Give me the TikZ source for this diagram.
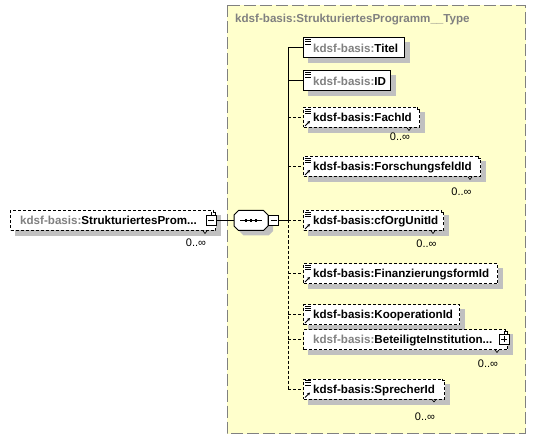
\documentclass[tikz,border=0pt]{standalone}
\usepackage{fontspec}
\setmainfont{Liberation Sans}
\usetikzlibrary{arrows.meta}
\definecolor{xyellow}{RGB}{255,255,204}
\definecolor{xgray}{RGB}{128,128,128}
\definecolor{shadowgray}{RGB}{192,192,192}
\pgfdeclarelayer{back}
\pgfdeclarelayer{shadelayer}
\pgfsetlayers{back,shadelayer,main}
\newcommand{\bfont}{\fontsize{11.6bp}{13bp}\selectfont\bfseries}
\newcommand{\mfont}{\fontsize{11bp}{13bp}\selectfont}
\newcommand{\xname}[2]{\makebox[#1bp][l]{\hspace{9.7bp}\textcolor{xgray}{kdsf-basis:}#2}}
\newcommand{\rname}[2]{\makebox[#1bp][l]{\hspace{9.7bp}kdsf-basis:#2}}
\newcommand{\eqicon}[1]{\draw[line width=0.8bp] ([xshift=2bp,yshift=-2bp]#1.north west) -- ++(5.5bp,0) ([xshift=2bp,yshift=-4.3bp]#1.north west) -- ++(5.5bp,0) ([xshift=2bp,yshift=-6.6bp]#1.north west) -- ++(5.5bp,0);}
\newcommand{\reficon}[1]{\draw[line width=0.8bp,-{Stealth[length=3bp,width=3bp]}] ([xshift=2bp,yshift=2bp]#1.south west) -- ++(5bp,5bp);}
\newcommand{\dropsh}[1]{\begin{pgfonlayer}{shadelayer}\fill[shadowgray] ([xshift=5bp,yshift=-5bp]#1.south west) rectangle ([xshift=5bp,yshift=-5bp]#1.north east);\end{pgfonlayer}}
\newcommand{\multi}[2]{\fill[#2] ([xshift=-2.6bp,yshift=0.6bp]#1.north east) rectangle ([xshift=0.6bp,yshift=-2bp]#1.north east);
  \draw[line width=0.8bp] ([xshift=-2.6bp]#1.north east) |- ([yshift=-2bp]#1.north east);
  \draw[line width=0.6bp] ([xshift=-13bp]#1.south east) -- ([xshift=-11bp,yshift=-2.5bp]#1.south east) -- ([xshift=-9bp]#1.south east);}
\tikzset{
  elbox/.style={draw=black, fill=white, line width=1bp, minimum height=20bp, inner sep=0pt,
    anchor=west, font=\bfont, text height=8.4bp, text depth=0pt},
  optbox/.style={elbox, dash pattern=on 3bp off 2bp},
  mult/.style={font=\mfont, inner sep=0pt, text height=8bp, text depth=0pt},
  ttlstyle/.style={font=\bfont, text=xgray, inner sep=0pt, anchor=west, text height=8.4bp, text depth=0pt},
  conn/.style={line width=1bp},
  optconn/.style={line width=1bp, dash pattern=on 3bp off 2bp},
  pmbox/.style={draw=black, fill=white, line width=1bp, minimum size=10bp, inner sep=0pt},
  minusbox/.style={pmbox, path picture={\draw[line width=1bp] ([xshift=2bp]path picture bounding box.west) -- ([xshift=-2bp]path picture bounding box.east);}},
  plusbox/.style={pmbox, path picture={\draw[line width=1bp] ([xshift=2bp]path picture bounding box.west) -- ([xshift=-2bp]path picture bounding box.east) ([yshift=2bp]path picture bounding box.south) -- ([yshift=-2bp]path picture bounding box.north);}}
}
\begin{document}
\begin{tikzpicture}[x=1bp,y=-1bp]
\useasboundingbox (0,0) rectangle (536,440);
% container
\begin{pgfonlayer}{back}
\draw[xgray, line width=1bp, dash pattern=on 12bp off 4bp, fill=xyellow] (227,5.5) rectangle (525.5,433.5);
\end{pgfonlayer}
\node[ttlstyle] (ttl) at (235,18.7) {kdsf-basis:StrukturiertesProgramm\_\_Type};

% root element
\node[optbox] (root) at (10,220.5) {\xname{205}{StrukturiertesProm...}};
\dropsh{root}
\multi{root}{white}
\node[minusbox] (rootm) at (211,220.5) {};
\draw[conn] (rootm.north) -- ++(0,3bp);
\node[mult] (rootmu) at (196,243) {0..∞};

% sequence compositor
\begin{pgfonlayer}{shadelayer}
\fill[shadowgray, shift={(5,5)}] (234,215) -- (238.5,210.5) -- (263.5,210.5) -- (268,215) -- (268,226) -- (263.5,230.5) -- (238.5,230.5) -- (234,226) -- cycle;
\end{pgfonlayer}
\draw[conn, fill=white] (234,215) -- (238.5,210.5) -- (263.5,210.5) -- (268,215) -- (268,226) -- (263.5,230.5) -- (238.5,230.5) -- (234,226) -- cycle;
\node[minimum width=34bp, minimum height=20bp, inner sep=0pt] (seq) at (251,220.5) {};
\draw[conn] ([xshift=-11bp]seq.center) -- ([xshift=11bp]seq.center);
\foreach \dx in {-5,0,5} \fill ([xshift=\dx bp-1.3bp,yshift=-1.3bp]seq.center) rectangle ([xshift=\dx bp+1.3bp,yshift=1.3bp]seq.center);
\node[minusbox] (seqm) at (273.5,220.5) {};
\draw[conn] (rootm.east) -- (seq.west);
\coordinate (jn) at (288,220.5);
\draw[conn] (seqm.east) -- (jn);

% children
\node[elbox] (titel) at (303,48) {\xname{101}{Titel}};
\dropsh{titel}\eqicon{titel}
\node[elbox] (id) at (303,81) {\xname{87}{ID}};
\dropsh{id}\eqicon{id}
\node[optbox] (fach) at (303,117.5) {\rname{116}{FachId}};
\dropsh{fach}\multi{fach}{xyellow}\eqicon{fach}\reficon{fach}
\node[mult] (fachmu) at (400,137) {0..∞};
\node[optbox] (forsch) at (303,166.5) {\rname{177}{ForschungsfeldId}};
\dropsh{forsch}\multi{forsch}{xyellow}\eqicon{forsch}\reficon{forsch}
\node[mult] (forschmu) at (461.5,191.5) {0..∞};
\node[optbox] (cforg) at (303,220.5) {\rname{140}{cfOrgUnitId}};
\dropsh{cforg}\multi{cforg}{xyellow}\eqicon{cforg}\reficon{cforg}
\node[mult] (cforgmu) at (426.5,244) {0..∞};
\node[optbox] (finanz) at (303,273.5) {\rname{194}{FinanzierungsformId}};
\dropsh{finanz}\eqicon{finanz}\reficon{finanz}
\node[optbox] (koop) at (303,314.5) {\rname{156}{KooperationId}};
\dropsh{koop}\eqicon{koop}\reficon{koop}
\node[optbox] (bet) at (303,339.5) {\xname{204}{BeteiligteInstitution...}};
\dropsh{bet}\multi{bet}{xyellow}
\node[plusbox] (betp) at (504,339) {};
\draw[conn] (betp.north) -- ++(0,3bp);
\node[mult] (betmu) at (488,363.5) {0..∞};
\node[optbox] (spr) at (303,389) {\rname{141}{SprecherId}};
\dropsh{spr}\multi{spr}{xyellow}\eqicon{spr}\reficon{spr}
\node[mult] (sprmu) at (425,416) {0..∞};

% connectors
\draw[conn] (titel.west -| jn) -- (jn);
\draw[optconn] (jn) -- (spr.west -| jn);
\draw[conn] (titel.west -| jn) -- (titel.west);
\draw[conn] (id.west -| jn) -- (id.west);
\draw[optconn] (fach.west -| jn) -- (fach.west);
\draw[optconn] (forsch.west -| jn) -- (forsch.west);
\draw[optconn] (cforg.west -| jn) -- (cforg.west);
\draw[optconn] (finanz.west -| jn) -- (finanz.west);
\draw[optconn] (koop.west -| jn) -- (koop.west);
\draw[optconn] (bet.west -| jn) -- (bet.west);
\draw[optconn] (spr.west -| jn) -- (spr.west);
\end{tikzpicture}
\end{document}
